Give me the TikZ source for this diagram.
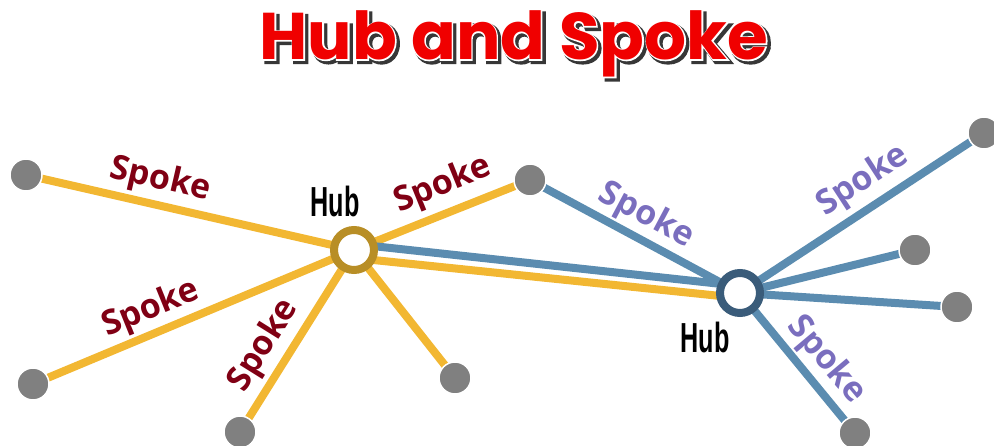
\documentclass[tikz,border=0pt]{standalone}
\usepackage{fontspec}
\usetikzlibrary{calc}
\newfontfamily\spokefont{Open Sans}
\newfontfamily\hubfont{Liberation Sans}
\newfontfamily\titlefont{Poppins}
\newfontfamily\titleW[FakeBold=3.5]{Poppins}
\newfontfamily\titleS[FakeBold=6]{Poppins}
\definecolor{yel}{RGB}{242,183,50}
\definecolor{blu}{RGB}{91,140,176}
\definecolor{hubA}{RGB}{184,142,38}
\definecolor{hubB}{RGB}{58,92,122}
\definecolor{dotg}{RGB}{128,128,128}
\definecolor{redlab}{RGB}{128,0,20}
\definecolor{blulab}{RGB}{122,110,190}
\definecolor{titred}{RGB}{240,0,0}
\definecolor{titsh}{RGB}{55,55,55}
\tikzset{
  yspoke/.style={draw=yel,line width=8pt},
  bspoke/.style={draw=blu,line width=8pt},
  enddot/.style={circle,fill=dotg,draw=white,line width=1.5pt,minimum size=32pt,inner sep=0pt},
  hubring/.style={circle,fill=white,line width=8pt,minimum size=40pt,inner sep=0pt},
  rlab/.style={text=redlab,font=\spokefont\bfseries\fontsize{34}{34}\selectfont,inner sep=0pt},
  blab/.style={text=blulab,font=\spokefont\bfseries\fontsize{34}{34}\selectfont,inner sep=0pt},
  hublab/.style={font=\hubfont\bfseries\fontsize{42}{42}\selectfont,inner sep=0pt},
  tit/.style={inner sep=0pt}
}
\newcommand{\titletxt}{Hub and Spoke}
\newcommand{\tsz}{\bfseries\fontsize{66}{66}\selectfont}
\begin{document}
\begin{tikzpicture}[x=1pt,y=-1pt]
\useasboundingbox (0,0) rectangle (994,446);
% coordinates
\coordinate (c1) at (354,250);
\coordinate (c2) at (740,293);
\path (26,175) coordinate (p1)
      (33,384) coordinate (p2)
      (240,432) coordinate (p3)
      (455,378) coordinate (p4)
      (530,180) coordinate (p5)
      (984,133) coordinate (p6)
      (915,250) coordinate (p7)
      (957,307) coordinate (p8)
      (855,433) coordinate (p9);
% spokes
\draw[yspoke] (c1) -- (p1);
\draw[yspoke] (c1) -- (p2);
\draw[yspoke] (c1) -- (p3);
\draw[yspoke] (c1) -- (p4);
\draw[yspoke] (c1) -- (p5);
\draw[bspoke] (c2) -- (p5);
\draw[bspoke] (c2) -- (p6);
\draw[bspoke] (c2) -- (p7);
\draw[bspoke] (c2) -- (p8);
\draw[bspoke] (c2) -- (p9);
\draw[bspoke] ($(c1)+(0,-6)$) -- ($(c2)+(0,-7)$);
\draw[yspoke] ($(c1)+(0,8)$) -- ($(c2)+(0,5)$);
% dots
\foreach \i in {1,...,9} \node[enddot] (d\i) at (p\i) {};
% hubs
\node[hubring,draw=hubA] (h1) at (c1) {};
\node[hubring,draw=hubB] (h2) at (c2) {};
% hub labels
\node[hublab] (l1) at (335,201) {\scalebox{0.6}[1]{Hub}};
\node[hublab] (l2) at (705,337) {\scalebox{0.6}[1]{Hub}};
% spoke labels
\node[rlab,rotate=-13] (s1) at (160,180) {Spoke};
\node[rlab,rotate=22] (s2) at (443,185) {Spoke};
\node[rlab,rotate=22] (s3) at (151,309) {Spoke};
\node[rlab,rotate=58] (s4) at (264,346) {Spoke};
\node[blab,rotate=-28] (s5) at (646,216) {Spoke};
\node[blab,rotate=33] (s6) at (863,181) {Spoke};
\node[blab,rotate=-50] (s7) at (826,360) {Spoke};
% title
\node[tit,text=titsh,font=\titleS\tsz] (tshadow) at (516.5,46.5) {\titletxt};
\node[tit,text=white,font=\titleW\tsz] (twhite) at (514,44) {\titletxt};
\node[tit,text=titred,font=\titlefont\tsz] (title) at (514,44) {\titletxt};
\end{tikzpicture}
\end{document}
